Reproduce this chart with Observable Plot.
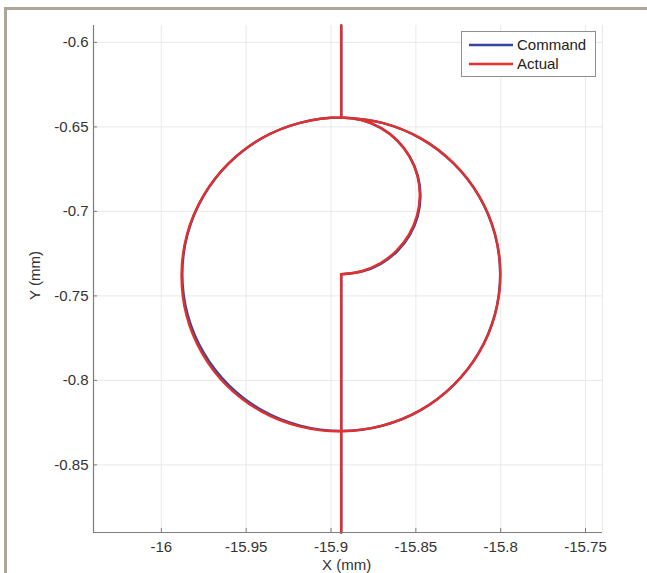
<!DOCTYPE html>
<html>
<head>
<meta charset="utf-8">
<script src="https://cdn.jsdelivr.net/npm/d3@7"></script>
<script src="https://cdn.jsdelivr.net/npm/@observablehq/plot@0.6"></script>
<style>
  html, body { margin: 0; padding: 0; background: #fff; }
  body { width: 647px; height: 573px; position: relative; overflow: hidden; font-family: "Liberation Sans", Arial, sans-serif; }
  #chart { position: absolute; left: 0; top: 0; }
  #frame { position: absolute; left: 4px; top: 7px; width: 700px; height: 700px; border-top: 3px solid #aba699; border-left: 3px solid #aba699; z-index: 3; pointer-events: none; }
  .lbl { position: absolute; font-size: 15px; color: #333; white-space: nowrap; z-index: 4; }
  #legend { position: absolute; left: 461px; top: 31px; width: 133px; height: 44px; border: 1px solid #8f8f8f; background: #fff; z-index: 4; }
  #legend .row { position: absolute; left: 0; height: 18px; font-size: 15px; color: #222; line-height: 18px; }
  #legend svg { position: absolute; left: 7px; top: 0; }
  #legend span { position: absolute; left: 55px; top: 0; }
</style>
</head>
<body>
<div id="chart"></div>
<div id="frame"></div>
<div class="lbl" id="xlabel" style="left:322px; top:556px;">X (mm)</div>
<div class="lbl" id="ylabel" style="left:8px; top:264px; transform: rotate(-90deg); transform-origin: 27px 9px;">Y (mm)</div>
<div id="legend"></div>
<script>
// ---- tick values and labels ----
const xTicks = [-16, -15.95, -15.9, -15.85, -15.8, -15.75];
const xTickLabels = ["-16", "-15.95", "-15.9", "-15.85", "-15.8", "-15.75"];
const yTicks = [-0.6, -0.65, -0.7, -0.75, -0.8, -0.85];
const yTickLabels = ["-0.6", "-0.65", "-0.7", "-0.75", "-0.8", "-0.85"];
const xDomain = [-16.04, -15.74];
const yDomain = [-0.89, -0.59];

// ---- series names ----
const seriesNames = ["Command", "Actual"];
const seriesColors = ["#34479f", "#e2302d"];

// ---- Command path: lead-in, arc + full circle, exit ----
const cmdSeg = [
  "in", "in",
  "loop", "loop", "loop", "loop", "loop", "loop", "loop", "loop", "loop", "loop", "loop", "loop", "loop",
  "loop", "loop", "loop", "loop", "loop", "loop", "loop", "loop", "loop", "loop", "loop", "loop",
  "loop", "loop", "loop", "loop", "loop", "loop", "loop", "loop", "loop", "loop", "loop", "loop",
  "out", "out"
];
const cmdX = [
  -15.894, -15.894,
  -15.894, -15.8819, -15.8707, -15.8610, -15.8536, -15.8489, -15.8473, -15.8489, -15.8536, -15.8610, -15.8707, -15.8819, -15.894,
  -15.9183, -15.9409, -15.9603, -15.9751, -15.9845, -15.9877, -15.9845, -15.9751, -15.9603, -15.9409, -15.9183, -15.894,
  -15.8698, -15.8472, -15.8278, -15.8129, -15.8035, -15.8003, -15.8035, -15.8129, -15.8278, -15.8472, -15.8698, -15.894,
  -15.894, -15.894
];
const cmdY = [
  -0.89, -0.7372,
  -0.7372, -0.7356, -0.7310, -0.7236, -0.7140, -0.7028, -0.6908, -0.6788, -0.6676, -0.6580, -0.6506, -0.6460, -0.6444,
  -0.6476, -0.6568, -0.6716, -0.6908, -0.7132, -0.7372, -0.7612, -0.7836, -0.8028, -0.8176, -0.8268, -0.8300,
  -0.8268, -0.8176, -0.8028, -0.7836, -0.7612, -0.7372, -0.7132, -0.6908, -0.6716, -0.6568, -0.6476, -0.6444,
  -0.6444, -0.59
];

// ---- Actual path (small deviations visible) ----
const actSeg = cmdSeg;
const actX = [
  -15.894, -15.894,
  -15.894, -15.8820, -15.8710, -15.8615, -15.8541, -15.8494, -15.8477, -15.8491, -15.8537, -15.8610, -15.8707, -15.8819, -15.894,
  -15.9183, -15.9409, -15.9604, -15.9753, -15.9848, -15.9881, -15.9852, -15.9759, -15.9611, -15.9414, -15.9186, -15.894,
  -15.8698, -15.8472, -15.8278, -15.8128, -15.8034, -15.8002, -15.8034, -15.8128, -15.8277, -15.8471, -15.8697, -15.894,
  -15.894, -15.894
];
const actY = [
  -0.89, -0.7372,
  -0.7372, -0.7354, -0.7307, -0.7233, -0.7137, -0.7026, -0.6908, -0.6789, -0.6677, -0.6581, -0.6506, -0.6460, -0.6444,
  -0.6476, -0.6567, -0.6716, -0.6908, -0.7132, -0.7373, -0.7615, -0.7841, -0.8034, -0.8182, -0.8272, -0.8301,
  -0.8268, -0.8176, -0.8028, -0.7836, -0.7612, -0.7372, -0.7132, -0.6908, -0.6716, -0.6568, -0.6476, -0.6444,
  -0.6444, -0.59
];

const cmdRows = cmdX.map((x, i) => ({x, y: cmdY[i], seg: cmdSeg[i]}));
const actRows = actX.map((x, i) => ({x, y: actY[i], seg: actSeg[i]}));
const xLabelMap = new Map(xTicks.map((t, i) => [t, xTickLabels[i]]));
const yLabelMap = new Map(yTicks.map((t, i) => [t, yTickLabels[i]]));
const tickLenX = (yDomain[1] - yDomain[0]) * 0.008;
const tickLenY = (xDomain[1] - xDomain[0]) * 0.008;

const chart = Plot.plot({
  width: 647,
  height: 573,
  marginLeft: 93,
  marginRight: 45,
  marginTop: 25,
  marginBottom: 41,
  style: {background: "transparent", fontFamily: "Liberation Sans, Arial, sans-serif"},
  x: {domain: xDomain, label: null},
  y: {domain: yDomain, label: null},
  marks: [
    Plot.gridX(xTicks, {stroke: "#e9e9e9", strokeOpacity: 1}),
    Plot.gridY(yTicks, {stroke: "#e9e9e9", strokeOpacity: 1}),
    Plot.ruleX([xDomain[1]], {stroke: "#e9e9e9"}),
    Plot.ruleX(xTicks, {y1: yDomain[0], y2: yDomain[0] + tickLenX, stroke: "#7d7d7d"}),
    Plot.ruleY(yTicks, {x1: xDomain[0], x2: xDomain[0] + tickLenY, stroke: "#7d7d7d"}),
    Plot.axisX(xTicks, {tickSize: 0, tickPadding: 9, fontSize: 15, fill: "#333", label: null, tickFormat: d => xLabelMap.get(d)}),
    Plot.axisY(yTicks, {tickSize: 0, tickPadding: 5, fontSize: 15, fill: "#333", label: null, tickFormat: d => yLabelMap.get(d)}),
    Plot.line(cmdRows, {x: "x", y: "y", z: "seg", stroke: seriesColors[0], strokeWidth: 2.5, curve: "catmull-rom"}),
    Plot.line(actRows, {x: "x", y: "y", z: "seg", stroke: seriesColors[1], strokeWidth: 2.4, curve: "catmull-rom"}),
    Plot.ruleX([xDomain[0]], {stroke: "#7d7d7d", strokeWidth: 1.2}),
    Plot.ruleY([yDomain[0]], {stroke: "#7d7d7d", strokeWidth: 1.2})
  ]
});
document.getElementById("chart").appendChild(chart);

// ---- legend ----
const legend = document.getElementById("legend");
seriesNames.forEach((name, i) => {
  const row = document.createElement("div");
  row.className = "row";
  row.style.top = (4 + i * 19) + "px";
  row.style.width = "130px";
  row.innerHTML = `<svg width="45" height="18"><line x1="0" y1="9" x2="44" y2="9" stroke="${seriesColors[i]}" stroke-width="2.5"/></svg><span>${name}</span>`;
  legend.appendChild(row);
});
</script>
</body>
</html>
